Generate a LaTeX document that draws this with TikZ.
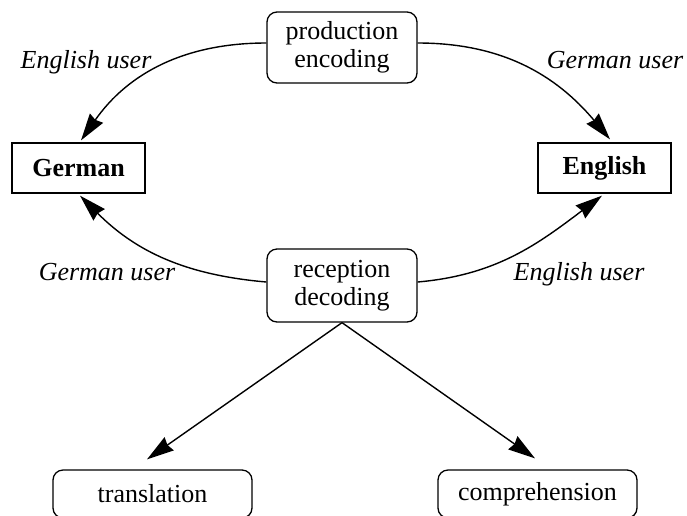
\documentclass[tikz,border=0pt]{standalone}
\usepackage{fontspec}
\setmainfont{Liberation Serif}
\usetikzlibrary{arrows.meta}
\begin{document}
\begin{tikzpicture}[x=1pt,y=-1pt,
  roundbox/.style={draw,line width=1.3pt,rounded corners=10pt,align=center,inner sep=0pt,
    font=\fontsize{26}{28}\selectfont},
  langbox/.style={draw,line width=1.3pt,inner sep=0pt,minimum height=50pt,
    font=\fontsize{26}{28}\selectfont\bfseries},
  usr/.style={anchor=base,inner sep=0pt,font=\fontsize{26}{28}\selectfont\itshape},
  arr/.style={line width=1.4pt,-{Stealth[length=27pt,width=16pt,inset=2pt]}}]
\useasboundingbox (0,0) rectangle (687,515);
% central process boxes
\node[roundbox,minimum width=150pt,minimum height=71pt] (prod) at (342,47.5) {production\\encoding};
\node[roundbox,minimum width=150pt,minimum height=73pt] (rec) at (342,285.5) {reception\\decoding};
% the two languages
\node[langbox,minimum width=133pt] (ger) at (78.5,168) {German};
\node[langbox,minimum width=133pt] (eng) at (604.5,168) {English};
% outcomes
\node[roundbox,minimum width=199pt,minimum height=48pt] (trans) at (152.5,494) {translation};
\node[roundbox,minimum width=199pt,minimum height=48pt] (comp) at (537.5,494) {comprehension};
% user labels
\node[usr] (u1) at (86,68) {English user};
\node[usr] (u2) at (615,68) {German user};
\node[usr] (u3) at (107,280) {German user};
\node[usr] (u4) at (579,280) {English user};
% arrow tips stop just short of the target boxes
\coordinate (gt) at ([shift={(2.5pt,2pt)}]ger.north);
\coordinate (gb) at ([shift={(1.5pt,-2pt)}]ger.south);
\coordinate (et) at ([shift={(5.5pt,3pt)}]eng.north);
\coordinate (eb) at ([shift={(-2.5pt,-2pt)}]eng.south);
\coordinate (tt) at ([shift={(-5.5pt,10pt)}]trans.north);
\coordinate (ct) at ([shift={(-2.5pt,11pt)}]comp.north);
% connectors
\draw[arr] ([yshift=4.5pt]prod.west) to[out=180,in=55] (gt);
\draw[arr] ([yshift=4.5pt]prod.east) to[out=0,in=130] (et);
\draw[arr] ([yshift=3.5pt]rec.west) to[out=175,in=-45] (gb);
\draw[arr] ([yshift=3.5pt]rec.east) to[out=5,in=217] (eb);
\draw[arr] (rec.south) -- (tt);
\draw[arr] (rec.south) -- (ct);
\end{tikzpicture}
\end{document}
